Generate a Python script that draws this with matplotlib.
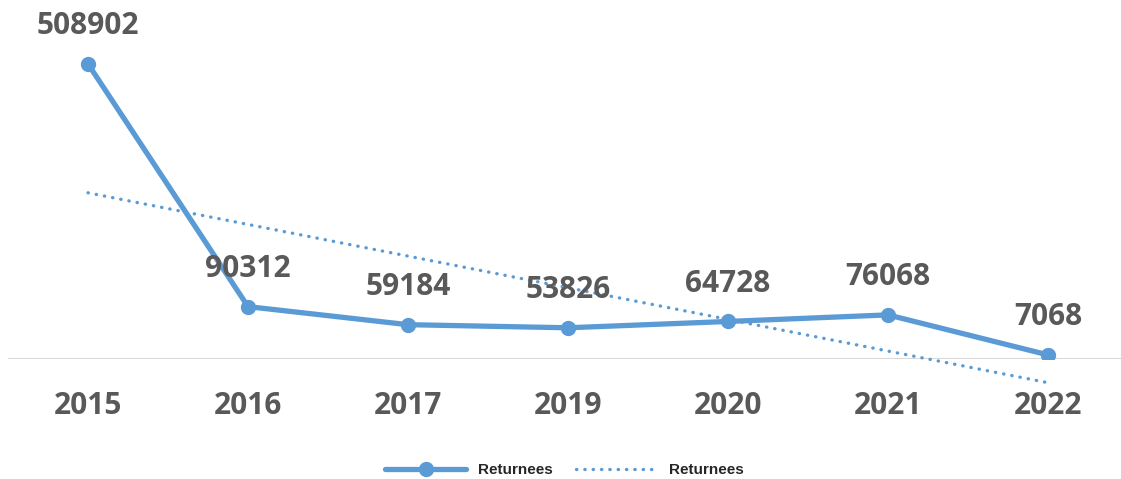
import numpy as np
import matplotlib.pyplot as plt

years = ["2015", "2016", "2017", "2019", "2020", "2021", "2022"]
returnees = [508902, 90312, 59184, 53826, 64728, 76068, 7068]

blue = "#5B9BD5"
grey = "#595959"
label_font = {"family": "Open Sans", "weight": "bold", "size": 21.5}

x = np.arange(1, len(years) + 1)
y = np.array(returnees)

fig = plt.figure(figsize=(11.21, 4.79), dpi=100)
ax = fig.add_axes([8 / 1121, 120 / 479, 1113 / 1121, 339 / 479])

# main series
ax.plot(x, y, color=blue, linewidth=3.8, marker="o", markersize=10,
        solid_capstyle="round", label="Returnees", zorder=3)

# linear trend line
k, b = np.polyfit(x, y, 1)
ax.plot(x, k * x + b, color=blue, linewidth=2.4, linestyle=(0, (0.1, 2.4)),
        dash_capstyle="round", clip_on=False, label="Returnees", zorder=2)

for xi, yi in zip(x, y):
    ax.annotate(f"{yi}", (xi, yi), xytext=(0, 27), textcoords="offset points",
                ha="center", va="center", color=grey, **label_font)

ax.set_xlim(0.5, 0.5 + 1113 / 160)
ax.set_ylim(0, 339 * 1724.5)
ax.axhline(0, color="#d9d9d9", linewidth=1.5, zorder=1)

ax.set_xticks(x)
ax.set_xticklabels(years, color=grey, **label_font)
ax.tick_params(axis="x", length=0, pad=23)
ax.set_yticks([])
for s in ax.spines.values():
    s.set_visible(False)

leg = ax.legend(loc="center", ncol=2, frameon=False, handlelength=5.3,
                columnspacing=1.5,
                prop={"family": "Liberation Sans", "weight": "bold", "size": 11})
leg.set_bbox_to_anchor((0.5, -(470 - 359) / 339), transform=ax.transAxes)
for t in leg.get_texts():
    t.set_color("#262626")

fig.savefig("out.png", dpi=100)
